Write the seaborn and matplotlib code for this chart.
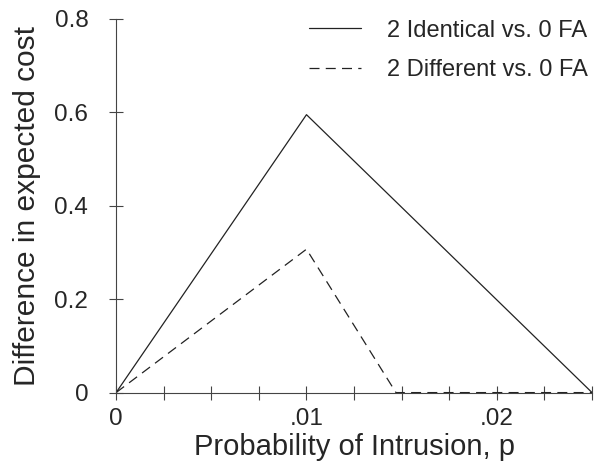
import numpy as np
import pandas as pd
import seaborn as sns
import matplotlib.pyplot as plt
from matplotlib.ticker import MultipleLocator

# values
p_identical = [0.0, 0.01, 0.025]
cost_identical = [0.0, 0.595, 0.0]
p_different = [0.0, 0.01, 0.0147, 0.025]
cost_different = [0.0, 0.307, 0.0, 0.0]
series_names = ["2 Identical vs. 0 FA", "2 Different vs. 0 FA"]

x_ticks = [0, 0.01, 0.02]
x_ticklabels = ["0", ".01", ".02"]
y_ticks = [0, 0.2, 0.4, 0.6, 0.8]
y_ticklabels = ["0", "0.2", "0.4", "0.6", "0.8"]

df = pd.concat([
    pd.DataFrame({"p": p_identical, "cost": cost_identical, "series": series_names[0]}),
    pd.DataFrame({"p": p_different, "cost": cost_different, "series": series_names[1]}),
], ignore_index=True)

sns.set_style("ticks")
plt.rcParams['font.family'] = ['Liberation Sans', 'DejaVu Sans']

fig = plt.figure(figsize=(6.11, 4.73), dpi=100)
ax = fig.add_axes([0.19, 0.17, 0.779, 0.79])

sns.lineplot(data=df, x="p", y="cost", hue="series", style="series",
             hue_order=series_names, style_order=series_names,
             palette=["#222222", "#222222"],
             dashes={series_names[0]: "", series_names[1]: (8, 5)},
             linewidth=0.9, sort=False, estimator=None, ax=ax)

ax.set_xlim(0, 0.025)
ax.set_ylim(0, 0.8)
ax.set_xticks(x_ticks)
ax.set_xticklabels(x_ticklabels)
ax.set_yticks(y_ticks)
ax.set_yticklabels(y_ticklabels)
ax.xaxis.set_minor_locator(MultipleLocator(0.0025))

for side in ["top", "right"]:
    ax.spines[side].set_visible(False)
for side in ["left", "bottom"]:
    ax.spines[side].set_linewidth(0.8)
    ax.spines[side].set_color("#444444")

ax.tick_params(axis="both", which="both", direction="inout", color="#444444", width=0.8)
ax.tick_params(axis="x", which="major", length=10, pad=6, labelsize=17.5)
ax.tick_params(axis="x", which="minor", length=10)
ax.tick_params(axis="y", which="major", length=10, pad=15, labelsize=17.5)

ax.set_xlabel("Probability of Intrusion, p", fontsize=21, labelpad=2)
ax.set_ylabel("Difference in expected cost", fontsize=21.5, labelpad=10)

ax.legend(loc="upper right", bbox_to_anchor=(1.035, 1.055), frameon=False,
          fontsize=17, handlelength=2.2, handletextpad=1.1, labelspacing=0.75)

fig.savefig("out.png", dpi=100)
